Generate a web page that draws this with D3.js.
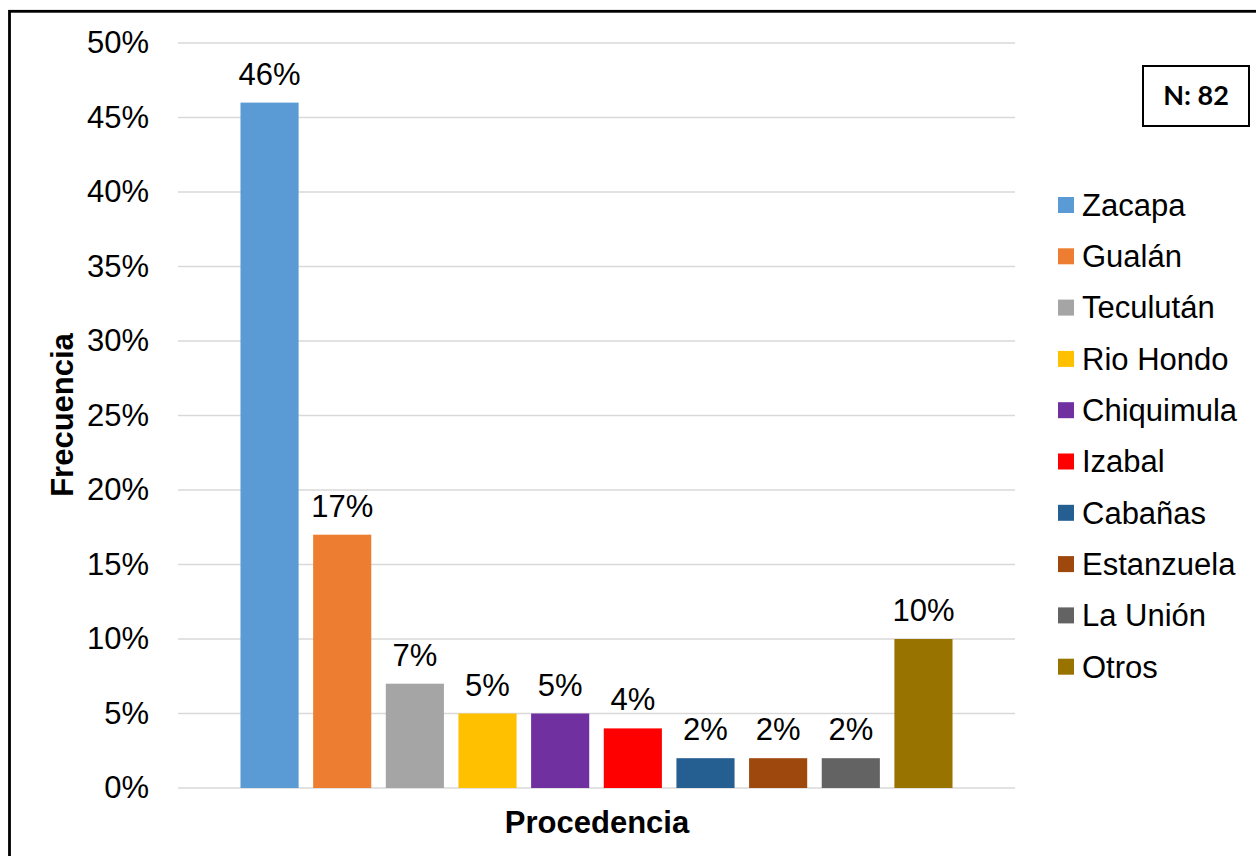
<!DOCTYPE html>
<html>
<head>
<meta charset="utf-8">
<script src="https://cdn.jsdelivr.net/npm/d3@7"></script>
<style>
  html, body { margin: 0; padding: 0; background: #fff; }
  svg { display: block; font-family: "Liberation Sans", Arial, sans-serif; }
</style>
</head>
<body>
<svg id="chart" width="1256" height="856"></svg>
<script>
// Procedencia de los pacientes (N: 82)
const categories = ["Zacapa", "Gualán", "Teculután", "Rio Hondo", "Chiquimula",
                    "Izabal", "Cabañas", "Estanzuela", "La Unión", "Otros"];
const values = [46, 17, 7, 5, 5, 4, 2, 2, 2, 10];
const colors = ["#5B9BD5", "#ED7D31", "#A5A5A5", "#FFC000", "#7030A0",
                "#FF0000", "#255E91", "#9E480E", "#636363", "#997300"];
const yTicks = [0, 5, 10, 15, 20, 25, 30, 35, 40, 45, 50];
const sampleLabel = "N: 82";

const svg = d3.select("#chart");
const W = 1256, H = 856;

// outer frame (runs off the right and bottom edges)
svg.append("rect")
  .attr("x", 9.5).attr("y", 11.3)
  .attr("width", W + 20).attr("height", H + 20)
  .attr("fill", "#fff").attr("stroke", "#000").attr("stroke-width", 2.8);

const plot = { left: 178, right: 1015, top: 43, bottom: 788 };

const y = d3.scaleLinear().domain([0, 50]).range([plot.bottom, plot.top]);
const x = d3.scaleBand().domain(categories)
  .range([plot.left, plot.right])
  .paddingInner(0.2).paddingOuter(0.86);

// gridlines
svg.append("g")
  .selectAll("line").data(yTicks).join("line")
  .attr("x1", plot.left).attr("x2", plot.right)
  .attr("y1", d => y(d)).attr("y2", d => y(d))
  .attr("stroke", "#D9D9D9").attr("stroke-width", 1.5);

// y axis labels
const yAxis = d3.axisLeft(y).tickValues(yTicks).tickFormat(d => d + "%").tickSize(0).tickPadding(0);
const gy = svg.append("g").attr("transform", "translate(149,0)").call(yAxis);
gy.select(".domain").remove();
gy.selectAll("text").attr("font-size", 31).attr("fill", "#000")
  .attr("font-family", "'Liberation Sans', Arial, sans-serif");

// bars
svg.append("g").selectAll("rect").data(values).join("rect")
  .attr("x", (d, i) => x(categories[i]))
  .attr("width", x.bandwidth())
  .attr("y", d => y(d))
  .attr("height", d => y(0) - y(d))
  .attr("fill", (d, i) => colors[i]);

// value labels
svg.append("g").selectAll("text").data(values).join("text")
  .attr("x", (d, i) => x(categories[i]) + x.bandwidth() / 2)
  .attr("y", d => y(d) - 18)
  .attr("text-anchor", "middle")
  .attr("font-size", 31).attr("fill", "#000")
  .text(d => d + "%");

// axis titles
svg.append("text")
  .attr("x", 597).attr("y", 833)
  .attr("text-anchor", "middle")
  .attr("font-size", 31).attr("font-weight", "bold")
  .text("Procedencia");

svg.append("text")
  .attr("transform", "translate(73,415) rotate(-90)")
  .attr("text-anchor", "middle")
  .attr("font-size", 31).attr("font-weight", "bold")
  .text("Frecuencia");

// legend
const legend = svg.append("g").attr("transform", "translate(1058,205)");
const row = legend.selectAll("g").data(categories).join("g")
  .attr("transform", (d, i) => `translate(0,${i * 51.3})`);
row.append("rect")
  .attr("x", 0).attr("y", -8).attr("width", 16).attr("height", 16)
  .attr("fill", (d, i) => colors[i]);
row.append("text")
  .attr("x", 24).attr("y", 0).attr("dy", "0.35em")
  .attr("font-size", 31).attr("fill", "#000")
  .text(d => d);

// sample size box
const nBox = svg.append("g");
nBox.append("rect")
  .attr("x", 1143).attr("y", 66).attr("width", 106).attr("height", 60)
  .attr("fill", "#fff").attr("stroke", "#000").attr("stroke-width", 2);
nBox.append("text")
  .attr("x", 1196).attr("y", 96).attr("dy", "0.35em")
  .attr("text-anchor", "middle")
  .attr("font-family", "Lato, 'Open Sans', sans-serif")
  .attr("font-weight", "bold").attr("font-size", 27)
  .text(sampleLabel);
</script>
</body>
</html>
